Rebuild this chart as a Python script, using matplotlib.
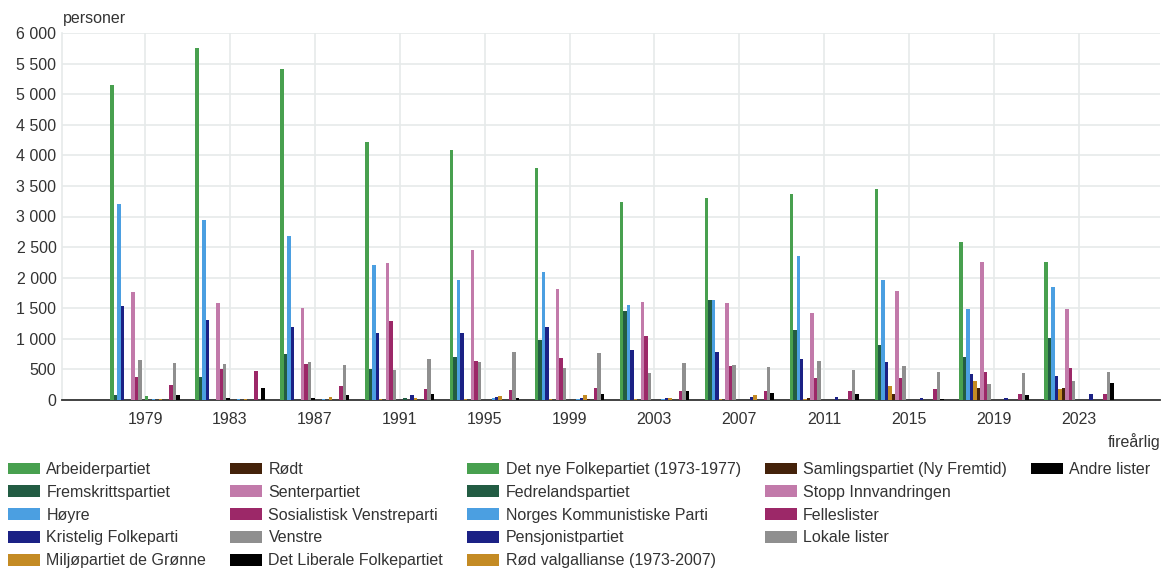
import numpy as np
import matplotlib.pyplot as plt
import matplotlib.patches as mpatches
from matplotlib.ticker import FuncFormatter, MultipleLocator

plt.rcParams['font.family'] = ['Liberation Sans', 'DejaVu Sans']

years = ['1979', '1983', '1987', '1991', '1995', '1999', '2003', '2007', '2011', '2015', '2019', '2023']

# personer per parti, valgår 1979-2023
arbeiderpartiet = [5150, 5750, 5410, 4220, 4080, 3800, 3240, 3300, 3370, 3450, 2580, 2260]
fremskrittspartiet = [80, 380, 760, 500, 700, 980, 1460, 1630, 1140, 900, 700, 1010]
hoyre = [3200, 2940, 2680, 2210, 1970, 2090, 1550, 1630, 2360, 1970, 1490, 1840]
krf = [1530, 1310, 1200, 1090, 1090, 1200, 810, 790, 670, 620, 420, 400]
mdg = [0, 0, 0, 20, 20, 20, 20, 20, 15, 230, 310, 180]
rodt = [0, 0, 0, 0, 0, 0, 0, 0, 40, 95, 200, 200]
senterpartiet = [1770, 1590, 1500, 2240, 2460, 1810, 1610, 1590, 1420, 1790, 2260, 1490]
sv = [380, 500, 590, 1290, 640, 680, 1050, 550, 360, 360, 460, 530]
venstre = [660, 590, 620, 490, 620, 530, 440, 570, 640, 560, 260, 310]
det_liberale = [0, 25, 25, 0, 0, 0, 0, 0, 0, 0, 0, 0]
det_nye = [70, 0, 0, 0, 0, 0, 0, 0, 0, 0, 0, 0]
fedrelandspartiet = [0, 0, 0, 25, 0, 0, 0, 0, 0, 0, 0, 0]
nkp = [20, 20, 20, 0, 25, 20, 20, 0, 0, 0, 0, 0]
pensjonistpartiet = [0, 0, 0, 75, 55, 25, 30, 50, 50, 35, 40, 95]
rv = [20, 20, 50, 25, 70, 75, 30, 75, 0, 0, 0, 0]
samlingspartiet = [0, 0, 0, 0, 0, 20, 0, 0, 0, 0, 0, 0]
stopp = [0, 0, 0, 0, 0, 0, 0, 0, 0, 0, 0, 0]
felleslister = [245, 480, 230, 180, 160, 200, 140, 150, 150, 180, 95, 95]
lokale_lister = [610, 0, 570, 665, 790, 765, 610, 545, 490, 465, 440, 455]
andre_lister = [75, 200, 75, 100, 25, 100, 140, 120, 100, 20, 75, 285]

names = ['Arbeiderpartiet', 'Fremskrittspartiet', 'Høyre', 'Kristelig Folkeparti',
         'Miljøpartiet de Grønne', 'Rødt', 'Senterpartiet', 'Sosialistisk Venstreparti',
         'Venstre', 'Det Liberale Folkepartiet', 'Det nye Folkepartiet (1973-1977)',
         'Fedrelandspartiet', 'Norges Kommunistiske Parti', 'Pensjonistpartiet',
         'Rød valgallianse (1973-2007)', 'Samlingspartiet (Ny Fremtid)',
         'Stopp Innvandringen', 'Felleslister', 'Lokale lister', 'Andre lister']
values = [arbeiderpartiet, fremskrittspartiet, hoyre, krf, mdg, rodt, senterpartiet, sv,
          venstre, det_liberale, det_nye, fedrelandspartiet, nkp, pensjonistpartiet, rv,
          samlingspartiet, stopp, felleslister, lokale_lister, andre_lister]

palette = ['#48a04f', '#225c43', '#4b9fe1', '#1b2185', '#c48b24',
           '#44220a', '#c27aaa', '#9c2868', '#8f8f8f', '#000000']
colors = palette * 2

txt = '#333333'
grid_c = '#e6eaea'

fig = plt.figure(figsize=(11.63, 5.68), dpi=100)
ax = fig.add_axes([62 / 1163, 168 / 568, 1098 / 1163, 367 / 568])

x = np.arange(len(years))
n = len(values)
w = 0.815 / n
handles = []
for i in range(n):
    b = ax.bar(x + (i - (n - 1) / 2) * w, values[i], width=w, color=colors[i],
               linewidth=0, label=names[i], zorder=3)
    handles.append(b)

ax.set_xlim(-0.978, 11.955)
ax.set_ylim(0, 6000)
ax.yaxis.set_major_locator(MultipleLocator(500))
ax.yaxis.set_major_formatter(FuncFormatter(lambda v, p: f"{int(v):,}".replace(",", " ")))
ax.set_xticks(x, years)
ax.set_axisbelow(True)
ax.grid(True, color=grid_c, linewidth=1.2)
ax.tick_params(axis='both', length=0, labelsize=11.5, labelcolor=txt)
ax.tick_params(axis='x', pad=9)
ax.tick_params(axis='y', pad=4)
for s in ['top', 'right']:
    ax.spines[s].set_visible(False)
ax.spines['left'].set_color(grid_c)
ax.spines['left'].set_linewidth(1.2)
ax.spines['bottom'].set_color('#333333')
ax.spines['bottom'].set_linewidth(1.3)

fig.text(63 / 1163, 1 - 18 / 568, 'personer', ha='left', va='center', fontsize=11.5, color=txt)
fig.text(1160 / 1163, 1 - 442 / 568, 'fireårlig', ha='right', va='center', fontsize=11.5, color=txt)

# legend columns: 5,5,5,4,1
blank = mpatches.Patch(facecolor='none', edgecolor='none')
leg_h = handles[:15] + handles[15:19] + [blank] + [handles[19]] + [blank] * 4
leg_l = names[:15] + names[15:19] + [''] + [names[19]] + [''] * 4
fig.legend(leg_h, leg_l, loc='upper left', bbox_to_anchor=(8 / 1163, 1 - 462 / 568),
           ncol=5, frameon=False, borderpad=0, borderaxespad=0, handlelength=2.0,
           handleheight=0.75, handletextpad=0.4, columnspacing=1.5, labelspacing=0.49,
           fontsize=11.5, labelcolor=txt)

fig.savefig('out.png', dpi=100)
